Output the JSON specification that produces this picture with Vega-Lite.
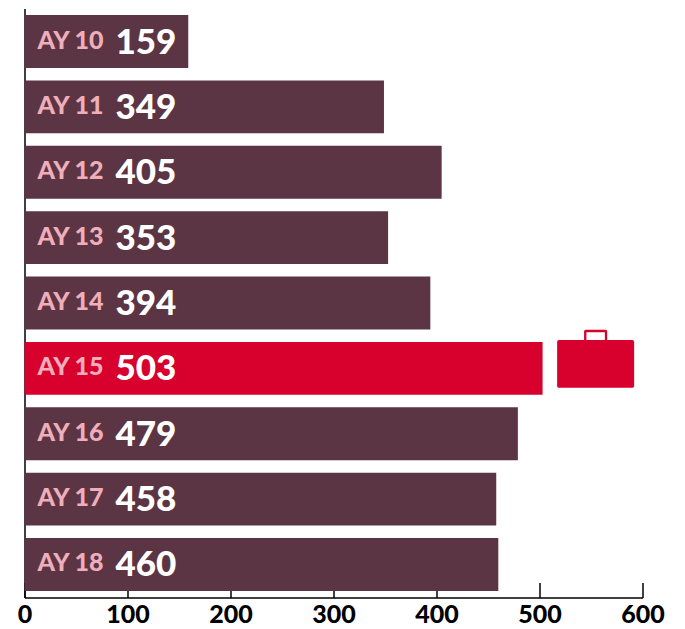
{
  "$schema": "https://vega.github.io/schema/vega-lite/v6.json",
  "width": 618,
  "height": 589,
  "autosize": {"type": "none"},
  "padding": {"left": 24.5, "top": 8.5, "right": 42.5, "bottom": 31.5},
  "background": "white",
  "view": {"stroke": null},
  "datasets": {
    "years": [
      {"year": "AY 10", "count": 159, "status": "other"},
      {"year": "AY 11", "count": 349, "status": "other"},
      {"year": "AY 12", "count": 405, "status": "other"},
      {"year": "AY 13", "count": 353, "status": "other"},
      {"year": "AY 14", "count": 394, "status": "other"},
      {"year": "AY 15", "count": 503, "status": "peak"},
      {"year": "AY 16", "count": 479, "status": "other"},
      {"year": "AY 17", "count": 458, "status": "other"},
      {"year": "AY 18", "count": 460, "status": "other"}
    ],
    "icons": [{"year": "AY 15", "position": 554.5}]
  },
  "data": {"name": "years"},
  "encoding": {
    "y": {
      "field": "year",
      "type": "nominal",
      "sort": null,
      "scale": {"paddingInner": 0.19, "paddingOuter": 0.1},
      "axis": {"title": null, "labels": false, "ticks": false, "domainColor": "#000000", "domainWidth": 1.5, "grid": false}
    }
  },
  "layer": [
    {
      "mark": {"type": "bar"},
      "encoding": {
        "x": {
          "field": "count",
          "type": "quantitative",
          "scale": {"domain": [0, 600], "nice": false},
          "axis": {
            "title": null,
            "values": [0, 100, 200, 300, 400, 500, 600],
            "grid": false,
            "domainColor": "#000000",
            "domainWidth": 1.5,
            "tickColor": "#000000",
            "tickWidth": 1.5,
            "tickSize": -15,
            "labelColor": "#000000",
            "labelFont": "Lato",
            "labelFontWeight": 900,
            "labelFontSize": 25,
            "labelPadding": 32,
            "labelBaseline": "middle",
            "labelFlush": false,
            "labelOverlap": false
          }
        },
        "color": {
          "field": "status",
          "type": "nominal",
          "scale": {"domain": ["other", "peak"], "range": ["#5c3544", "#d8002d"]},
          "legend": null
        }
      }
    },
    {
      "mark": {"type": "text", "align": "left", "baseline": "middle", "dx": 13, "dy": -1, "font": "Lato", "fontWeight": 900, "fontSize": 25, "color": "#f0aeba"},
      "encoding": {
        "x": {"datum": 0},
        "text": {"field": "year"}
      }
    },
    {
      "mark": {"type": "text", "align": "left", "baseline": "middle", "dx": 91, "dy": 1, "font": "Lato", "fontWeight": 900, "fontSize": 35, "color": "#ffffff"},
      "encoding": {
        "x": {"datum": 0},
        "text": {"field": "count", "type": "quantitative"}
      }
    },
    {
      "data": {"name": "icons"},
      "mark": {
        "type": "point",
        "filled": true,
        "opacity": 1,
        "color": "#d8002d",
        "size": 5929,
        "shape": "M-0.95,-0.74 H-0.3 V-0.96 Q-0.3,-1 -0.26,-1 H0.26 Q0.3,-1 0.3,-0.96 V-0.74 H0.95 Q1,-0.74 1,-0.69 V0.456 Q1,0.506 0.95,0.506 H-0.95 Q-1,0.506 -1,0.456 V-0.69 Q-1,-0.74 -0.95,-0.74 Z M-0.24,-0.74 H0.24 V-0.94 H-0.24 Z"
      },
      "encoding": {
        "x": {"field": "position", "type": "quantitative"}
      }
    }
  ]
}
